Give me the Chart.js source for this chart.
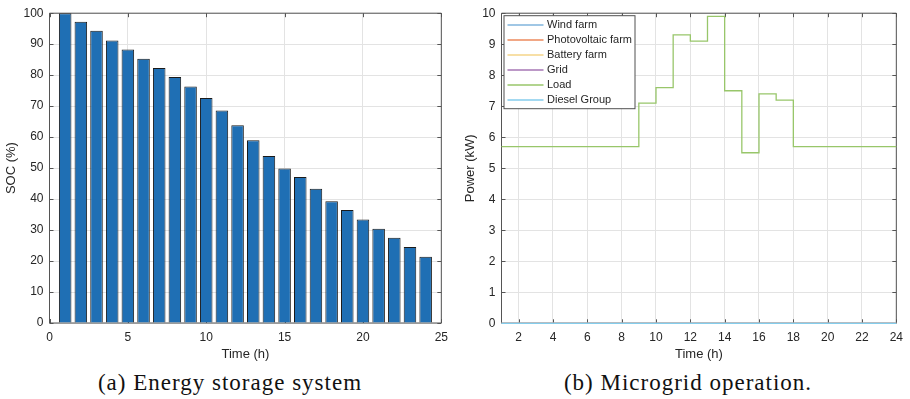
<!DOCTYPE html>
<html>
<head>
<meta charset="utf-8">
<script src="https://cdn.jsdelivr.net/npm/chart.js@4/dist/chart.umd.min.js"></script>
<style>
  body { margin: 0; background: #fff; width: 910px; height: 399px; position: relative; overflow: hidden; }
  canvas { position: absolute; top: 0; }
  #soc-chart { left: 0; }
  #power-chart { left: 455px; }
  .caption {
    position: absolute; top: 370px; line-height: 26px;
    font-family: "Liberation Serif", serif; font-size: 23px; color: #111;
    white-space: nowrap; transform: translateX(-50%); letter-spacing: 1px;
  }
</style>
</head>
<body>
<canvas id="soc-chart" width="455" height="365"></canvas>
<canvas id="power-chart" width="455" height="365"></canvas>
<div class="caption" style="left:230px">(a) Energy storage system</div>
<div class="caption" style="left:688px">(b) Microgrid operation.</div>
<script>
// hours of the day
const hours = [1, 2, 3, 4, 5, 6, 7, 8, 9, 10, 11, 12, 13, 14, 15, 16, 17, 18, 19, 20, 21, 22, 23, 24];

// (a) state of charge, %
const soc = [100, 97.2, 94.3, 91.2, 88.3, 85.3, 82.3, 79.4, 76.3, 72.6, 68.6, 63.8,
             59.0, 53.9, 49.9, 47.1, 43.3, 39.3, 36.5, 33.4, 30.4, 27.5, 24.5, 21.4];

// (b) power per source, kW
const windFarm     = [0, 0, 0, 0, 0, 0, 0, 0, 0, 0, 0, 0, 0, 0, 0, 0, 0, 0, 0, 0, 0, 0, 0, 0];
const pvFarm       = [0, 0, 0, 0, 0, 0, 0, 0, 0, 0, 0, 0, 0, 0, 0, 0, 0, 0, 0, 0, 0, 0, 0, 0];
const batteryFarm  = [0, 0, 0, 0, 0, 0, 0, 0, 0, 0, 0, 0, 0, 0, 0, 0, 0, 0, 0, 0, 0, 0, 0, 0];
const grid         = [0, 0, 0, 0, 0, 0, 0, 0, 0, 0, 0, 0, 0, 0, 0, 0, 0, 0, 0, 0, 0, 0, 0, 0];
const load         = [5.7, 5.7, 5.7, 5.7, 5.7, 5.7, 5.7, 5.7, 7.1, 7.6, 9.3, 9.1,
                      9.9, 7.5, 5.5, 7.4, 7.2, 5.7, 5.7, 5.7, 5.7, 5.7, 5.7, 5.7];
const dieselGroup  = [0, 0, 0, 0, 0, 0, 0, 0, 0, 0, 0, 0, 0, 0, 0, 0, 0, 0, 0, 0, 0, 0, 0, 0];

const seriesNames = ['Wind farm', 'Photovoltaic farm', 'Battery farm', 'Grid', 'Load', 'Diesel Group'];
const seriesColors = ['#80b4dc', '#ec8a5c', '#f4d488', '#a676b4', '#98c66a', '#84cdec'];

// tick labels
const socXTicks = [0, 5, 10, 15, 20, 25];
const socYTicks = [0, 10, 20, 30, 40, 50, 60, 70, 80, 90, 100];
const powerXTicks = [2, 4, 6, 8, 10, 12, 14, 16, 18, 20, 22, 24];
const powerYTicks = [0, 1, 2, 3, 4, 5, 6, 7, 8, 9, 10];

const tickFont = { family: '"Liberation Sans", Arial, sans-serif', size: 12 };
const titleFont = { family: '"Liberation Sans", Arial, sans-serif', size: 13 };
const textColor = '#262626';
const gridColor = '#e3e3e3';

const setTicks = (list) => (axis) => { axis.ticks = list.map(v => ({ value: v })); };

// box round the plot with inward ticks, like matlab axes
const boxPlugin = {
  id: 'matlabBox',
  beforeDatasetsDraw(chart) {
    const { ctx, chartArea: a, scales: { x, y } } = chart;
    ctx.save();
    ctx.strokeStyle = '#555';
    ctx.lineWidth = 1;
    ctx.beginPath();
    x.ticks.forEach(t => {
      const px = Math.round(x.getPixelForValue(t.value)) + 0.5;
      ctx.moveTo(px, a.bottom); ctx.lineTo(px, a.bottom - 4);
      ctx.moveTo(px, a.top); ctx.lineTo(px, a.top + 4);
    });
    y.ticks.forEach(t => {
      const py = Math.round(y.getPixelForValue(t.value)) + 0.5;
      ctx.moveTo(a.left, py); ctx.lineTo(a.left + 4, py);
      ctx.moveTo(a.right, py); ctx.lineTo(a.right - 4, py);
    });
    ctx.rect(a.left, a.top, a.right - a.left, a.bottom - a.top);
    ctx.stroke();
    ctx.restore();
  }
};

// legend box inside the plot, top left
const legendPlugin = {
  id: 'insideLegend',
  afterDatasetsDraw(chart) {
    const { ctx, chartArea: a } = chart;
    const bx = a.left + 2.5, by = a.top + 2.5;
    ctx.save();
    ctx.fillStyle = '#fff';
    ctx.strokeStyle = '#505050';
    ctx.lineWidth = 1;
    ctx.fillRect(bx, by, 131, 93);
    ctx.strokeRect(bx, by, 131, 93);
    ctx.font = '11px "Liberation Sans", Arial, sans-serif';
    ctx.textBaseline = 'middle';
    seriesNames.forEach((name, i) => {
      const yy = Math.round(a.top + 11.3 + i * 15.15);
      ctx.strokeStyle = seriesColors[i];
      ctx.lineWidth = 1.6;
      ctx.beginPath();
      ctx.moveTo(bx + 3.5, yy);
      ctx.lineTo(bx + 39.5, yy);
      ctx.stroke();
      ctx.fillStyle = textColor;
      ctx.fillText(name, bx + 43, yy);
    });
    ctx.restore();
  }
};

new Chart(document.getElementById('soc-chart').getContext('2d'), {
  type: 'bar',
  data: {
    datasets: [{
      label: 'SOC',
      data: hours.map((h, i) => ({ x: h, y: soc[i] })),
      backgroundColor: '#1f6fb4',
      borderColor: '#1a1a1a',
      borderWidth: 1,
      barPercentage: 0.8,
      categoryPercentage: 1,
    }],
  },
  options: {
    responsive: false,
    animation: false,
    layout: { padding: { top: 12, right: 13, left: 0, bottom: 0 } },
    plugins: { legend: { display: false }, tooltip: { enabled: false } },
    scales: {
      x: {
        type: 'linear', min: 0, max: 25, offset: false,
        afterBuildTicks: setTicks(socXTicks),
        afterFit: (s) => { s.height = 42; },
        grid: { color: gridColor, drawTicks: false, offset: false },
        border: { display: false },
        ticks: { font: tickFont, color: textColor, padding: 7, maxRotation: 0 },
        title: { display: true, text: 'Time (h)', font: titleFont, color: textColor, padding: { top: 0, bottom: 3 } },
      },
      y: {
        min: 0, max: 100,
        afterBuildTicks: setTicks(socYTicks),
        afterFit: (s) => { s.width = 49.5; },
        grid: { color: gridColor, drawTicks: false },
        border: { display: false },
        ticks: { font: tickFont, color: textColor, padding: 6 },
        title: { display: true, text: 'SOC (%)', font: titleFont, color: textColor, padding: { top: 4, bottom: 0 } },
      },
    },
  },
  plugins: [boxPlugin],
});

const powerSeries = [windFarm, pvFarm, batteryFarm, grid, load, dieselGroup];

new Chart(document.getElementById('power-chart').getContext('2d'), {
  type: 'line',
  data: {
    datasets: powerSeries.map((vals, i) => ({
      label: seriesNames[i],
      data: hours.map((h, j) => ({ x: h, y: vals[j] })),
      borderColor: seriesColors[i],
      borderWidth: 1.3,
      pointRadius: 0,
      stepped: true,
      fill: false,
      clip: 3,
      order: i === 5 ? 0 : (i === 4 ? 1 : 2),
    })),
  },
  options: {
    responsive: false,
    animation: false,
    layout: { padding: { top: 12, right: 13.3, left: 0, bottom: 0 } },
    plugins: { legend: { display: false }, tooltip: { enabled: false } },
    scales: {
      x: {
        type: 'linear', min: 1, max: 24,
        afterBuildTicks: setTicks(powerXTicks),
        afterFit: (s) => { s.height = 41.7; },
        grid: { color: gridColor, drawTicks: false },
        border: { display: false },
        ticks: { font: tickFont, color: textColor, padding: 7, maxRotation: 0 },
        title: { display: true, text: 'Time (h)', font: titleFont, color: textColor, padding: { top: 0, bottom: 3 } },
      },
      y: {
        min: 0, max: 10,
        afterBuildTicks: setTicks(powerYTicks),
        afterFit: (s) => { s.width = 46.5; },
        grid: { color: gridColor, drawTicks: false },
        border: { display: false },
        ticks: { font: tickFont, color: textColor, padding: 6 },
        title: { display: true, text: 'Power (kW)', font: titleFont, color: textColor, padding: { top: 8, bottom: 0 } },
      },
    },
  },
  plugins: [boxPlugin, legendPlugin],
});
</script>
</body>
</html>
